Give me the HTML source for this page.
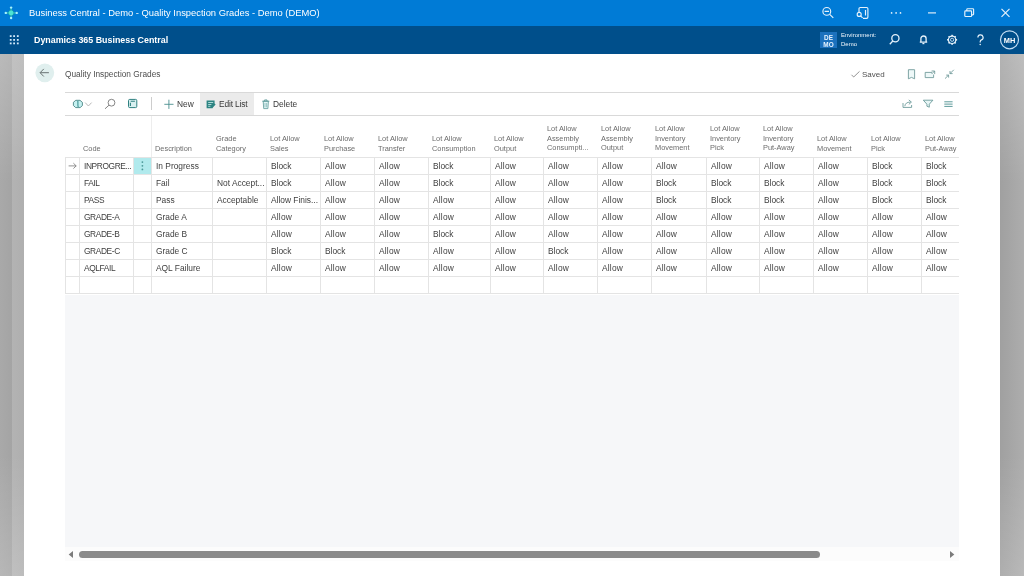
<!DOCTYPE html>
<html><head><meta charset="utf-8"><style>
*{box-sizing:border-box;margin:0;padding:0}
html,body{width:1024px;height:576px;overflow:hidden;background:#fff;font-family:"Liberation Sans",sans-serif}
.a{position:absolute}
.t{position:absolute;white-space:nowrap;line-height:1;will-change:transform}
.vl{position:absolute;width:1px;background:#e4e4e4}
.hl{position:absolute;height:1px;background:#e4e4e4}
.hd{will-change:transform;position:absolute;font-size:7.4px;color:#6c6c6c;line-height:9.7px;white-space:nowrap}
.c{will-change:transform;position:absolute;font-size:8.4px;color:#3e3e3e;white-space:nowrap;line-height:1}
.w{letter-spacing:0.2px}
.u{letter-spacing:-0.4px}
</style></head><body>
<div class="a" style="left:0;top:0;width:1024px;height:25.5px;background:#007bd6"></div>
<div class="a" style="left:0;top:25.5px;width:1024px;height:28px;background:#004f8b"></div>
<div class="a" style="left:0;top:53.5px;width:24px;height:523px;background:linear-gradient(180deg,rgba(255,255,255,.2) 0,rgba(255,255,255,0) 130px,rgba(255,255,255,0) 400px,rgba(255,255,255,.17) 523px),linear-gradient(90deg,#a9a9a9 0,#a4a4a4 12px,#b3b3b3 12px,#afafaf 24px)"></div>
<div class="a" style="left:1000px;top:53.5px;width:24px;height:523px;background:linear-gradient(180deg,rgba(255,255,255,.2) 0,rgba(255,255,255,0) 130px,rgba(255,255,255,0) 400px,rgba(255,255,255,.15) 523px),linear-gradient(90deg,#a0a0a0,#adadad)"></div>
<div class="t" style="left:29px;top:7.6px;color:#fff;font-size:9.4px">Business Central - Demo - Quality Inspection Grades - Demo (DEMO)</div>
<div class="t" style="left:34px;top:36.1px;color:#fff;font-size:8.9px;font-weight:bold">Dynamics 365 Business Central</div>
<div class="a" style="left:820px;top:32px;width:17px;height:16px;background:#1c71bd"></div>
<div class="t" style="left:820px;top:34.5px;width:17px;text-align:center;color:#e8f4ff;font-size:6.4px;font-weight:bold;line-height:6.9px">DE<br>MO</div>
<div class="t" style="left:841px;top:30.8px;color:#f2f8fd;font-size:6px;line-height:9.3px">Environment:<br>Demo</div>
<div class="t" style="left:1000px;top:37.2px;width:19px;text-align:center;color:#fff;font-size:7.4px;font-weight:bold">MH</div>
<div class="t" style="left:65px;top:70.4px;color:#4e4e4e;font-size:8.3px">Quality Inspection Grades</div>
<div class="t" style="left:862px;top:70.9px;color:#505050;font-size:8px">Saved</div>
<div class="a" style="left:65px;top:92px;width:894px;height:1px;background:#d9d9d9"></div>
<div class="a" style="left:65px;top:115px;width:894px;height:1px;background:#d9d9d9"></div>
<div class="a" style="left:200px;top:93px;width:53.5px;height:22px;background:#ebebeb"></div>
<div class="a" style="left:151px;top:97px;width:1px;height:13px;background:#cdcdcd"></div>
<div class="t" style="left:176.5px;top:100.3px;color:#383838;font-size:8.4px">New</div>
<div class="t" style="left:218.5px;top:100.3px;color:#383838;font-size:8.4px;letter-spacing:-0.15px">Edit List</div>
<div class="t" style="left:273px;top:100.3px;color:#383838;font-size:8.4px">Delete</div>
<div class="vl" style="left:65px;top:157px;height:137px"></div>
<div class="vl" style="left:79px;top:157px;height:137px"></div>
<div class="vl" style="left:133px;top:157px;height:137px"></div>
<div class="vl" style="left:151px;top:157px;height:137px"></div>
<div class="vl" style="left:212px;top:157px;height:137px"></div>
<div class="vl" style="left:266px;top:157px;height:137px"></div>
<div class="vl" style="left:320px;top:157px;height:137px"></div>
<div class="vl" style="left:374px;top:157px;height:137px"></div>
<div class="vl" style="left:428px;top:157px;height:137px"></div>
<div class="vl" style="left:490px;top:157px;height:137px"></div>
<div class="vl" style="left:543px;top:157px;height:137px"></div>
<div class="vl" style="left:597px;top:157px;height:137px"></div>
<div class="vl" style="left:651px;top:157px;height:137px"></div>
<div class="vl" style="left:706px;top:157px;height:137px"></div>
<div class="vl" style="left:759px;top:157px;height:137px"></div>
<div class="vl" style="left:813px;top:157px;height:137px"></div>
<div class="vl" style="left:867px;top:157px;height:137px"></div>
<div class="vl" style="left:921px;top:157px;height:137px"></div>
<div class="vl" style="left:151px;top:116px;height:41px;background:#ededed"></div>
<div class="hl" style="left:65px;top:157px;width:894px"></div>
<div class="hl" style="left:65px;top:174px;width:894px"></div>
<div class="hl" style="left:65px;top:191px;width:894px"></div>
<div class="hl" style="left:65px;top:208px;width:894px"></div>
<div class="hl" style="left:65px;top:225px;width:894px"></div>
<div class="hl" style="left:65px;top:242px;width:894px"></div>
<div class="hl" style="left:65px;top:259px;width:894px"></div>
<div class="hl" style="left:65px;top:276px;width:894px"></div>
<div class="hl" style="left:65px;top:293px;width:894px"></div>
<div class="hd" style="left:83.0px;top:143.6px">Code</div>
<div class="hd" style="left:155.0px;top:143.6px">Description</div>
<div class="hd" style="left:216.0px;top:133.9px">Grade<br>Category</div>
<div class="hd" style="left:270.0px;top:133.9px">Lot Allow<br>Sales</div>
<div class="hd" style="left:324.0px;top:133.9px">Lot Allow<br>Purchase</div>
<div class="hd" style="left:378.0px;top:133.9px">Lot Allow<br>Transfer</div>
<div class="hd" style="left:432.0px;top:133.9px">Lot Allow<br>Consumption</div>
<div class="hd" style="left:494.0px;top:133.9px">Lot Allow<br>Output</div>
<div class="hd" style="left:547.0px;top:124.2px">Lot Allow<br>Assembly<br>Consumpti...</div>
<div class="hd" style="left:601.0px;top:124.2px">Lot Allow<br>Assembly<br>Output</div>
<div class="hd" style="left:655.0px;top:124.2px">Lot Allow<br>Inventory<br>Movement</div>
<div class="hd" style="left:710.0px;top:124.2px">Lot Allow<br>Inventory<br>Pick</div>
<div class="hd" style="left:763.0px;top:124.2px">Lot Allow<br>Inventory<br>Put-Away</div>
<div class="hd" style="left:817.0px;top:133.9px">Lot Allow<br>Movement</div>
<div class="hd" style="left:871.0px;top:133.9px">Lot Allow<br>Pick</div>
<div class="hd" style="left:925.0px;top:133.9px">Lot Allow<br>Put-Away</div>
<div class="a" style="left:134px;top:158px;width:17px;height:16px;background:#b1eaed"></div>
<div class="c u" style="left:83.8px;top:162.10px">INPROGRE...</div>
<div class="c" style="left:155.8px;top:162.10px">In Progress</div>
<div class="c" style="left:270.8px;top:162.10px">Block</div>
<div class="c w" style="left:324.8px;top:162.10px">Allow</div>
<div class="c w" style="left:378.8px;top:162.10px">Allow</div>
<div class="c" style="left:432.8px;top:162.10px">Block</div>
<div class="c w" style="left:494.8px;top:162.10px">Allow</div>
<div class="c w" style="left:547.8px;top:162.10px">Allow</div>
<div class="c w" style="left:601.8px;top:162.10px">Allow</div>
<div class="c w" style="left:655.8px;top:162.10px">Allow</div>
<div class="c w" style="left:710.8px;top:162.10px">Allow</div>
<div class="c w" style="left:763.8px;top:162.10px">Allow</div>
<div class="c w" style="left:817.8px;top:162.10px">Allow</div>
<div class="c" style="left:871.8px;top:162.10px">Block</div>
<div class="c" style="left:925.8px;top:162.10px">Block</div>
<div class="c u" style="left:83.8px;top:179.10px">FAIL</div>
<div class="c" style="left:155.8px;top:179.10px">Fail</div>
<div class="c" style="left:216.8px;top:179.10px">Not Accept...</div>
<div class="c" style="left:270.8px;top:179.10px">Block</div>
<div class="c w" style="left:324.8px;top:179.10px">Allow</div>
<div class="c w" style="left:378.8px;top:179.10px">Allow</div>
<div class="c" style="left:432.8px;top:179.10px">Block</div>
<div class="c w" style="left:494.8px;top:179.10px">Allow</div>
<div class="c w" style="left:547.8px;top:179.10px">Allow</div>
<div class="c w" style="left:601.8px;top:179.10px">Allow</div>
<div class="c" style="left:655.8px;top:179.10px">Block</div>
<div class="c" style="left:710.8px;top:179.10px">Block</div>
<div class="c" style="left:763.8px;top:179.10px">Block</div>
<div class="c w" style="left:817.8px;top:179.10px">Allow</div>
<div class="c" style="left:871.8px;top:179.10px">Block</div>
<div class="c" style="left:925.8px;top:179.10px">Block</div>
<div class="c u" style="left:83.8px;top:196.10px">PASS</div>
<div class="c" style="left:155.8px;top:196.10px">Pass</div>
<div class="c" style="left:216.8px;top:196.10px">Acceptable</div>
<div class="c" style="left:270.8px;top:196.10px">Allow Finis...</div>
<div class="c w" style="left:324.8px;top:196.10px">Allow</div>
<div class="c w" style="left:378.8px;top:196.10px">Allow</div>
<div class="c w" style="left:432.8px;top:196.10px">Allow</div>
<div class="c w" style="left:494.8px;top:196.10px">Allow</div>
<div class="c w" style="left:547.8px;top:196.10px">Allow</div>
<div class="c w" style="left:601.8px;top:196.10px">Allow</div>
<div class="c" style="left:655.8px;top:196.10px">Block</div>
<div class="c" style="left:710.8px;top:196.10px">Block</div>
<div class="c" style="left:763.8px;top:196.10px">Block</div>
<div class="c w" style="left:817.8px;top:196.10px">Allow</div>
<div class="c" style="left:871.8px;top:196.10px">Block</div>
<div class="c" style="left:925.8px;top:196.10px">Block</div>
<div class="c u" style="left:83.8px;top:213.10px">GRADE-A</div>
<div class="c" style="left:155.8px;top:213.10px">Grade A</div>
<div class="c w" style="left:270.8px;top:213.10px">Allow</div>
<div class="c w" style="left:324.8px;top:213.10px">Allow</div>
<div class="c w" style="left:378.8px;top:213.10px">Allow</div>
<div class="c w" style="left:432.8px;top:213.10px">Allow</div>
<div class="c w" style="left:494.8px;top:213.10px">Allow</div>
<div class="c w" style="left:547.8px;top:213.10px">Allow</div>
<div class="c w" style="left:601.8px;top:213.10px">Allow</div>
<div class="c w" style="left:655.8px;top:213.10px">Allow</div>
<div class="c w" style="left:710.8px;top:213.10px">Allow</div>
<div class="c w" style="left:763.8px;top:213.10px">Allow</div>
<div class="c w" style="left:817.8px;top:213.10px">Allow</div>
<div class="c w" style="left:871.8px;top:213.10px">Allow</div>
<div class="c w" style="left:925.8px;top:213.10px">Allow</div>
<div class="c u" style="left:83.8px;top:230.10px">GRADE-B</div>
<div class="c" style="left:155.8px;top:230.10px">Grade B</div>
<div class="c w" style="left:270.8px;top:230.10px">Allow</div>
<div class="c w" style="left:324.8px;top:230.10px">Allow</div>
<div class="c w" style="left:378.8px;top:230.10px">Allow</div>
<div class="c" style="left:432.8px;top:230.10px">Block</div>
<div class="c w" style="left:494.8px;top:230.10px">Allow</div>
<div class="c w" style="left:547.8px;top:230.10px">Allow</div>
<div class="c w" style="left:601.8px;top:230.10px">Allow</div>
<div class="c w" style="left:655.8px;top:230.10px">Allow</div>
<div class="c w" style="left:710.8px;top:230.10px">Allow</div>
<div class="c w" style="left:763.8px;top:230.10px">Allow</div>
<div class="c w" style="left:817.8px;top:230.10px">Allow</div>
<div class="c w" style="left:871.8px;top:230.10px">Allow</div>
<div class="c w" style="left:925.8px;top:230.10px">Allow</div>
<div class="c u" style="left:83.8px;top:247.10px">GRADE-C</div>
<div class="c" style="left:155.8px;top:247.10px">Grade C</div>
<div class="c" style="left:270.8px;top:247.10px">Block</div>
<div class="c" style="left:324.8px;top:247.10px">Block</div>
<div class="c w" style="left:378.8px;top:247.10px">Allow</div>
<div class="c w" style="left:432.8px;top:247.10px">Allow</div>
<div class="c w" style="left:494.8px;top:247.10px">Allow</div>
<div class="c" style="left:547.8px;top:247.10px">Block</div>
<div class="c w" style="left:601.8px;top:247.10px">Allow</div>
<div class="c w" style="left:655.8px;top:247.10px">Allow</div>
<div class="c w" style="left:710.8px;top:247.10px">Allow</div>
<div class="c w" style="left:763.8px;top:247.10px">Allow</div>
<div class="c w" style="left:817.8px;top:247.10px">Allow</div>
<div class="c w" style="left:871.8px;top:247.10px">Allow</div>
<div class="c w" style="left:925.8px;top:247.10px">Allow</div>
<div class="c u" style="left:83.8px;top:264.10px">AQLFAIL</div>
<div class="c" style="left:155.8px;top:264.10px">AQL Failure</div>
<div class="c w" style="left:270.8px;top:264.10px">Allow</div>
<div class="c w" style="left:324.8px;top:264.10px">Allow</div>
<div class="c w" style="left:378.8px;top:264.10px">Allow</div>
<div class="c w" style="left:432.8px;top:264.10px">Allow</div>
<div class="c w" style="left:494.8px;top:264.10px">Allow</div>
<div class="c w" style="left:547.8px;top:264.10px">Allow</div>
<div class="c w" style="left:601.8px;top:264.10px">Allow</div>
<div class="c w" style="left:655.8px;top:264.10px">Allow</div>
<div class="c w" style="left:710.8px;top:264.10px">Allow</div>
<div class="c w" style="left:763.8px;top:264.10px">Allow</div>
<div class="c w" style="left:817.8px;top:264.10px">Allow</div>
<div class="c w" style="left:871.8px;top:264.10px">Allow</div>
<div class="c w" style="left:925.8px;top:264.10px">Allow</div>
<div class="a" style="left:65px;top:295px;width:894px;height:252px;background:#f6f7f9"></div>
<div class="a" style="left:65px;top:547px;width:894px;height:14px;background:#fcfcfc"></div>
<div class="a" style="left:79px;top:551px;width:741px;height:7px;border-radius:3.5px;background:#8a8a8a"></div>
<svg class="a" style="left:0;top:0" width="1024" height="576" viewBox="0 0 1024 576" fill="none">
<!-- BC logo -->
<path d="M11.1 8.8L15.2 12.9 11.1 17 7 12.9z" fill="#169fa6"/>
<path d="M5.7 12.9h11.1M11.1 7.5v10.5" stroke="#3fc9cc" stroke-width="0.8"/>
<circle cx="11.1" cy="12.9" r="2.3" fill="#4be3d6"/>
<g fill="#a6f2fb"><circle cx="11.1" cy="7.6" r="1.2"/><circle cx="11.1" cy="18" r="1.2"/><circle cx="5.8" cy="12.9" r="1.2"/><circle cx="16.7" cy="12.9" r="1.2"/></g>
<!-- title bar right icons -->
<g stroke="#e6f2fb" stroke-width="1.15">
<circle cx="826.8" cy="11.4" r="3.9"/><path d="M824.6 11.4h4.4M829.7 14.3l3.6 3.6"/>
<path d="M859 12V8.8a1.3 1.3 0 0 1 1.3-1.3h6.3a1.3 1.3 0 0 1 1.3 1.3v8.3a1.3 1.3 0 0 1-1.3 1.3H863"/><path d="M865.5 10v5.5"/>
<circle cx="859.2" cy="14.4" r="2"/><path d="M860.6 15.8l2 2"/>
<path d="M928 12.9h8"/>
<rect x="964.8" y="10.9" width="6.8" height="5.6" rx="0.8"/><path d="M966.8 10.9V9.5a.8.8 0 0 1 .8-.8h5.2a.8.8 0 0 1 .8.8v4.6a.8.8 0 0 1-.8.8h-1.2"/>
<path d="M1001.5 8.8l8 8M1009.5 8.8l-8 8"/>
</g>
<g fill="#e6f2fb"><circle cx="891.6" cy="12.9" r="0.85"/><circle cx="896.1" cy="12.9" r="0.85"/><circle cx="900.5" cy="12.9" r="0.85"/></g>
<!-- waffle -->
<g fill="#d4eafb"><rect x="9.8" y="35.2" width="1.8" height="1.8"/><rect x="13.2" y="35.2" width="1.8" height="1.8"/><rect x="16.9" y="35.2" width="1.8" height="1.8"/>
<rect x="9.8" y="39" width="1.8" height="1.8"/><rect x="13.2" y="39" width="1.8" height="1.8"/><rect x="16.9" y="39" width="1.8" height="1.8"/>
<rect x="9.8" y="42.5" width="1.8" height="1.8"/><rect x="13.2" y="42.5" width="1.8" height="1.8"/><rect x="16.9" y="42.5" width="1.8" height="1.8"/></g>
<!-- nav icons -->
<g stroke="#e6f2fb" stroke-width="1">
<circle cx="895.4" cy="38.3" r="3.6" stroke-width="1.3"/><path d="M892.8 41l-3 3.2" stroke-width="1.3"/>
<path d="M919.8 42.2h7.4M920.9 42.2v-3.6a2.6 2.6 0 0 1 5.2 0v3.6" stroke-width="1.3"/><path d="M922.4 43.6h2" stroke-width="1.2"/>
<circle cx="952.1" cy="39.8" r="1.6" stroke-width="0.8"/>
<circle cx="952.1" cy="39.8" r="3.7" stroke-width="1.2"/>
<rect x="951.3" y="34.8" width="1.6" height="1.4" transform="rotate(0 952.1 39.8)" fill="#e6f2fb" stroke="none"/>
<rect x="951.3" y="34.8" width="1.6" height="1.4" transform="rotate(45 952.1 39.8)" fill="#e6f2fb" stroke="none"/>
<rect x="951.3" y="34.8" width="1.6" height="1.4" transform="rotate(90 952.1 39.8)" fill="#e6f2fb" stroke="none"/>
<rect x="951.3" y="34.8" width="1.6" height="1.4" transform="rotate(135 952.1 39.8)" fill="#e6f2fb" stroke="none"/>
<rect x="951.3" y="34.8" width="1.6" height="1.4" transform="rotate(180 952.1 39.8)" fill="#e6f2fb" stroke="none"/>
<rect x="951.3" y="34.8" width="1.6" height="1.4" transform="rotate(225 952.1 39.8)" fill="#e6f2fb" stroke="none"/>
<rect x="951.3" y="34.8" width="1.6" height="1.4" transform="rotate(270 952.1 39.8)" fill="#e6f2fb" stroke="none"/>
<rect x="951.3" y="34.8" width="1.6" height="1.4" transform="rotate(315 952.1 39.8)" fill="#e6f2fb" stroke="none"/>
<path d="M977.9 37.5a2.6 2.6 0 1 1 3.5 2.4c-.9.4-1.2.9-1.2 1.8v.7" stroke-width="1.2"/>
<circle cx="1009.5" cy="39.8" r="9" stroke="#c2ddf3" stroke-width="1.2"/>
</g>
<circle cx="980.2" cy="44.5" r="0.75" fill="#e6f2fb"/>
<!-- back button -->
<circle cx="44.8" cy="72.8" r="9.4" fill="#e0efee"/>
<path d="M40.3 72.7h8.6M43.8 68.9l-3.7 3.8 3.7 3.8" stroke="#5b6464" stroke-width="0.9"/>
<!-- saved check -->
<path d="M851.5 74.8l2.2 2.2 5.8-5.6" stroke="#777" stroke-width="0.8"/>
<!-- header right icons -->
<g stroke="#6a9696" stroke-width="0.85">
<path d="M908.4 69.7h6.2v9.1l-3.1-1.4-3.1 1.4z" fill="#eef8f8"/>
<path d="M932 72.4h-6.8v5.2h8.4v-3" fill="#eef8f8"/><path d="M931.6 71h3.1v3.1M934.6 71l-3 3"/>
<path d="M953.8 69.8l-3.8 3.8M950 71v2.6h2.6M945 78.6l3.6-3.5M946.2 75.1h2.4v2.5"/>
</g>
<!-- toolbar left icons -->
<path d="M75.8 100.3h4.2l2.4 2.1v3.2l-2.3 2h-4.4l-2.3-2.1v-3.2z" fill="#c6f1f1" stroke="#4a8585" stroke-width="0.9"/>
<path d="M77.6 100.6c.9 2.1-.6 4.2.9 6.8" stroke="#62aaaa" stroke-width="1.5"/>
<path d="M85.2 102.6l3.2 3.4 3.2-3.4" stroke="#a5a5a5" stroke-width="0.8"/>
<circle cx="111.5" cy="102.7" r="3.4" stroke="#777" stroke-width="0.9"/><path d="M109 105.2l-4 3.6" stroke="#777" stroke-width="0.9"/>
<rect x="128.5" y="99.4" width="8.3" height="8.2" rx="1.2" fill="#d8f0f0" stroke="#2f8080" stroke-width="1"/>
<path d="M130.7 101.2h4.2M130.4 102.8v3.1" stroke="#2f8080" stroke-width="1.1"/>
<!-- new / edit / delete icons -->
<path d="M168.9 99.7v9.2M164.3 104.3h9.2" stroke="#4b8e8e" stroke-width="0.9"/>
<path d="M206.6 100.6h8v3l1 1-2.5 2.6-.6 1h-5.9z" fill="#2c8482"/>
<path d="M208.2 102.5h5M208.2 104.5h3.2M208.2 106.3h2.2" stroke="#cfeeee" stroke-width="0.8"/>
<path d="M262.2 101.2h7.2M264.6 101.2v-1.3h2.4v1.3M263.2 101.2l.5 7.4h4.2l.5-7.4z" stroke="#5a9898" stroke-width="0.8" fill="#e4f6f6"/>
<path d="M265 103v4.3M266.6 103v4.3" stroke="#6aa6a6" stroke-width="0.6"/>
<!-- right toolbar icons -->
<g stroke="#639595" stroke-width="0.85">
<path d="M903 103v4.4h8.6V105" /><path d="M904.8 106.2c.4-2.8 2.2-4.1 5.6-4.1M908.8 99.9l2.6 2.2-2.6 2.3"/>
<path d="M923.3 100.2h9.6l-3.6 4v3l-2.4-1v-2z" fill="#e8f6f6"/>
</g>
<path d="M944.3 101.8h8.3M944.3 104.1h8.3M944.3 106.4h8.3" stroke="#4b8e8e" stroke-width="0.9"/>
<!-- row arrow + dots -->
<path d="M68.6 165.9h7.6M73.4 163.2l2.8 2.7-2.8 2.7" stroke="#777" stroke-width="0.8"/>
<g fill="#4a9898"><circle cx="142.4" cy="162.1" r="0.9"/><circle cx="142.4" cy="165.8" r="0.9"/><circle cx="142.4" cy="169.4" r="0.9"/></g>
<!-- scroll arrows -->
<path d="M73 551v7l-4.3-3.5z" fill="#7b7b7b"/>
<path d="M950 551v7l4.3-3.5z" fill="#7b7b7b"/>
</svg>
</body></html>
